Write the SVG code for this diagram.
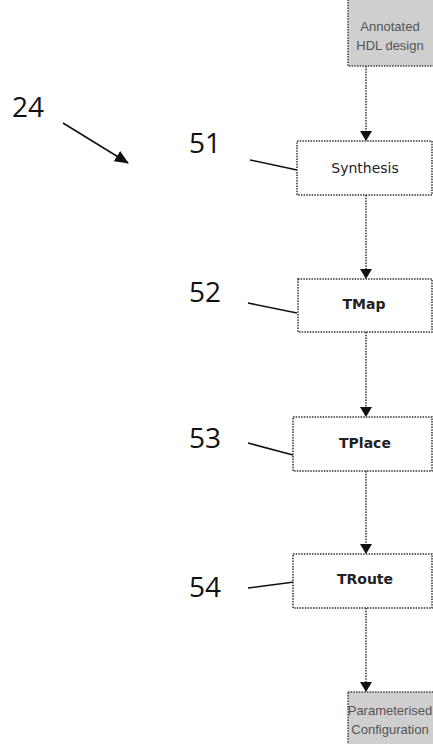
<svg xmlns="http://www.w3.org/2000/svg" width="433" height="744" viewBox="0 0 433 744">
<style>
.box{fill:#fff;stroke:#333;stroke-width:1.5;stroke-dasharray:1.5 1.2}
.grey{fill:#cfcfcf;stroke:#444;stroke-width:1.5;stroke-dasharray:1.5 1.2}
.t{font-family:"DejaVu Sans","Liberation Sans",sans-serif;font-size:14px;fill:#222;text-anchor:middle}
.b{font-weight:bold}
.g{font-family:"Liberation Sans",Arial,sans-serif;font-size:13px;fill:#555}
.lbl{font-family:"Open Sans","Liberation Sans",sans-serif;font-size:28px;fill:#111}
.flow{stroke:#333;stroke-width:1.5;stroke-dasharray:1.5 1.2;fill:none}
.lead{stroke:#111;stroke-width:1.5;fill:none}
</style>
<defs>
<marker id="ah" markerWidth="10" markerHeight="12" refX="9" refY="6" orient="auto" markerUnits="userSpaceOnUse">
<path d="M0,0 L10,6 L0,12 z" fill="#111"/>
</marker>
<marker id="ah2" markerWidth="14" markerHeight="12" refX="13" refY="6" orient="auto" markerUnits="userSpaceOnUse">
<path d="M0,0 L14,6 L0,12 z" fill="#111"/>
</marker>
</defs>
<g id="connectors">
<line class="flow" x1="366" y1="66" x2="366" y2="140" marker-end="url(#ah)"/>
<line class="flow" x1="366" y1="195" x2="366" y2="278" marker-end="url(#ah)"/>
<line class="flow" x1="366" y1="332" x2="366" y2="416" marker-end="url(#ah)"/>
<line class="flow" x1="366" y1="471" x2="366" y2="553" marker-end="url(#ah)"/>
<line class="flow" x1="366" y1="608" x2="366" y2="691" marker-end="url(#ah)"/>
<line class="lead" x1="63" y1="123" x2="128" y2="163" marker-end="url(#ah2)"/>
<line class="lead" x1="250" y1="160" x2="297" y2="170"/>
<line class="lead" x1="248" y1="303" x2="297" y2="313"/>
<line class="lead" x1="248" y1="443" x2="293" y2="455"/>
<line class="lead" x1="248" y1="588" x2="294" y2="582"/>
</g>
<g id="annotated">
<rect class="grey" x="348" y="-2" width="86" height="68"/>
<text class="t g" x="390" y="31">Annotated</text>
<text class="t g" x="390" y="50">HDL design</text>
</g>
<g id="synthesis">
<rect class="box" x="297" y="141" width="135" height="54"/>
<text class="t" x="365" y="173">Synthesis</text>
</g>
<g id="tmap">
<rect class="box" x="298" y="279" width="134" height="53"/>
<text class="t b" x="364" y="309">TMap</text>
</g>
<g id="tplace">
<rect class="box" x="293" y="417" width="139" height="54"/>
<text class="t b" x="365" y="448">TPlace</text>
</g>
<g id="troute">
<rect class="box" x="293" y="554" width="139" height="54"/>
<text class="t b" x="365" y="584">TRoute</text>
</g>
<g id="param">
<rect class="grey" x="348" y="692" width="86" height="54"/>
<text class="t g" x="390" y="715">Parameterised</text>
<text class="t g" x="390" y="734">Configuration</text>
</g>
<g id="labels">
<text class="lbl" x="12" y="117">24</text>
<text class="lbl" x="189" y="153">51</text>
<text class="lbl" x="189" y="302">52</text>
<text class="lbl" x="189" y="448">53</text>
<text class="lbl" x="189" y="597">54</text>
</g>
</svg>
